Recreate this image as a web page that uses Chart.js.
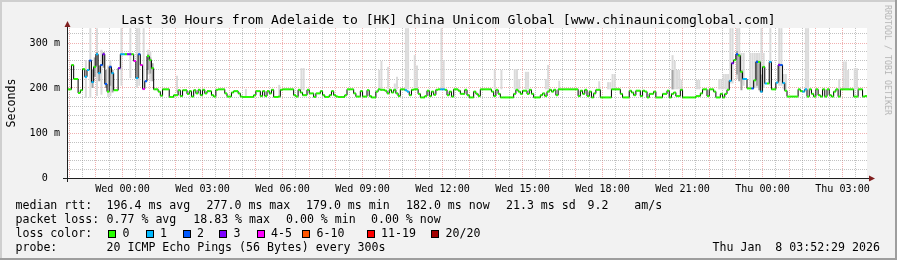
<!DOCTYPE html>
<html><head><meta charset="utf-8">
<script src="https://cdn.jsdelivr.net/npm/chart.js@4.4.1/dist/chart.umd.min.js"></script>
<style>
html,body{margin:0;padding:0;background:#f2f2f2;}
#wrap{position:relative;width:897px;height:260px;background:#f2f2f2;overflow:hidden;font-family:'DejaVu Sans Mono',monospace;color:#000;}
#c{position:absolute;left:0;top:0;}
.t{position:absolute;white-space:pre;font-size:11.58px;line-height:14px;}
.box{position:absolute;width:8px;height:8px;border:1px solid #000;box-sizing:border-box;}
#title{position:absolute;left:0;top:11.5px;width:897px;text-align:center;font-size:13.1px;line-height:16px;white-space:pre;}
#ylab{position:absolute;left:10.5px;top:102.5px;font-size:11.58px;line-height:14px;white-space:pre;transform:translate(-50%,-50%) rotate(-90deg);}
#wm{position:absolute;left:888px;top:60px;font-size:8.3px;line-height:10px;white-space:pre;color:#b5b5b5;transform:translate(-50%,-50%) rotate(90deg);}
.sh{position:absolute;}
</style></head>
<body>
<div id="wrap">
<canvas id="c" width="897" height="260"></canvas>
<div id="title">Last 30 Hours from Adelaide to [HK] China Unicom Global [www.chinaunicomglobal.com]</div>
<div id="ylab">Seconds</div>
<div id="wm">RRDTOOL / TOBI OETIKER</div>
<div id="legend"></div>
<div class="sh" style="left:0;top:0;width:897px;height:2px;background:#cfcfcf"></div>
<div class="sh" style="left:0;top:0;width:2px;height:260px;background:#cfcfcf"></div>
<div class="sh" style="left:0;top:258px;width:897px;height:2px;background:#9e9e9e"></div>
<div class="sh" style="left:895px;top:0;width:2px;height:260px;background:#9e9e9e"></div>
</div>
<script>
// ---- data ----
const stepMinutes = 5;
const startMinute = -125; // minutes relative to Wed 00:00
const tickTimes = [0,180,360,540,720,900,1080,1260,1440,1620];
const tickLabels = ['Wed 00:00','Wed 03:00','Wed 06:00','Wed 09:00','Wed 12:00','Wed 15:00','Wed 18:00','Wed 21:00','Thu 00:00','Thu 03:00'];
const yTickValues = [0,100,200,300];
const yTickLabels = ['0  ','100 m','200 m','300 m'];
const lossLabels = ['0','1','2','3','4-5','6-10','11-19','20/20'];
const lossColors = ['#26ff00','#00b8ff','#0059ff','#7e00ff','#ff00ff','#ff5500','#ff0000','#a10000'];

const rtt = [
197,197,251,220,220,189,195,242,225,240,261,213,247,275,233,251,275,209,192,247,
233,195,195,244,275,275,275,275,275,275,260,222,275,251,198,215,271,262,244,197,
197,192,183,197,197,197,180,180,184,184,195,182,195,195,187,193,181,195,188,196,
184,196,188,193,193,184,181,196,197,197,197,188,181,181,190,193,193,188,181,180,
180,180,180,180,184,193,193,182,193,182,193,188,196,180,180,181,196,197,197,197,
197,197,184,181,196,190,184,184,196,188,188,180,188,188,193,184,180,180,184,193,
184,181,180,180,180,184,197,197,197,188,181,181,193,181,181,195,182,179,179,192,
197,196,196,194,188,196,190,196,188,182,197,197,195,192,184,196,197,197,187,179,
179,182,194,182,192,185,196,197,197,197,196,184,192,181,197,197,194,187,187,196,
184,179,179,192,187,182,197,197,197,197,197,192,182,196,187,179,179,179,179,179,
179,187,196,192,187,194,194,187,196,187,179,179,179,184,188,182,192,196,192,196,
184,197,197,197,197,197,197,197,197,197,182,194,187,196,182,192,179,188,196,196,
179,179,179,179,179,197,197,197,197,187,179,179,179,194,190,184,194,194,182,194,
192,179,187,187,192,179,179,179,187,187,194,179,187,190,182,182,196,179,179,179,
179,179,179,182,182,188,197,197,182,197,197,192,179,179,187,179,187,196,216,255,
262,275,272,236,220,220,199,199,199,217,258,258,192,247,210,210,258,197,197,212,
251,251,211,194,181,181,181,181,181,197,193,192,197,181,197,187,181,197,184,181,
197,181,197,184,181,192,197,181,197,197,197,197,197,197,181,181,197,197,181,182
];
const lossIdx = [8,9,10,11,13,14,15,16,17,19,20,23,24,25,27,28,30,31,32,33,34,35,152,153,168,169,298,299,301,304,305,308,310,312,314,316,319,320,321,322,331,332];
const lossCat = [1,1,2,1,1,1,2,3,2,2,1,3,1,1,3,3,4,1,2,4,4,2,1,1,1,1,1,3,2,1,1,2,2,1,1,1,1,3,2,1,1,1];

const smokeIdx = [8,10,13,15,18,19,24,28,31,32,34,36,37,49,80,95,105,106,140,141,144,147,148,152,153,156,157,168,169,192,195,201,202,203,206,207,215,216,221,239,243,244,245,246,272,273,274,275,276,283,284,293,294,295,296,297,298,299,301,302,303,304,307,308,309,310,311,312,313,316,320,321,322,323,332,333,347,349,350,351,354,355];
const smokeLo  = [178,178,182,185,180,182,205,222,200,205,195,230,215,190,180,182,195,195,197,197,198,197,197,197,197,200,198,197,197,197,197,197,197,197,197,197,197,197,197,197,197,197,197,197,197,197,197,197,197,197,197,197,197,197,197,197,210,210,220,220,210,205,200,200,200,200,200,200,200,205,205,205,197,197,197,197,197,197,197,197,197,197];
const smokeHi  = [262,333,333,285,250,262,333,333,333,333,333,285,282,227,198,207,244,244,240,260,247,210,225,333,333,273,250,333,262,240,240,242,242,220,236,236,220,251,216,215,213,213,231,231,273,260,240,240,218,218,218,220,220,231,231,231,333,333,333,333,278,278,278,278,278,278,278,333,278,333,333,333,231,231,333,333,220,259,259,240,244,244];
const darkIdx = [11,12,13,14,16,17,19,20,36,37,38,272,301,302,303,310,311,312,320];
const darkLo  = [200,225,250,215,245,200,205,190,240,232,215,197,230,215,195,205,195,190,215];
const darkHi  = [240,268,280,250,280,240,250,240,275,268,255,240,282,275,240,262,255,230,255];

// ---- legend text ----
const L = document.getElementById('legend');
function txt(s, x, y){const d=document.createElement('div');d.className='t';d.textContent=s;d.style.left=x+'px';d.style.top=y+'px';L.appendChild(d);}
txt('median rtt:',15.5,197.5);
txt('196.4 ms avg',106.6,197.5);txt('277.0 ms max',206.6,197.5);txt('179.0 ms min',306,197.5);
txt('182.0 ms now',406,197.5);txt('21.3 ms sd',506,197.5);txt('9.2',587.6,197.5);txt('am/s',634.3,197.5);
txt('packet loss:',15.5,211.5);
txt('0.77 % avg',106.6,211.5);txt('18.83 % max',193.3,211.5);txt('0.00 % min',286,211.5);txt('0.00 % now',371,211.5);
txt('loss color:',15.5,225.5);
const boxX=[108.3,145.7,182.7,219.3,256.7,302,366.7,431];
const labX=[122.6,160,197,233.6,271,316.5,381,445.5];
lossLabels.forEach((s,k)=>{const b=document.createElement('div');b.className='box';b.style.left=boxX[k]+'px';b.style.top='229.5px';b.style.background=lossColors[k];L.appendChild(b);txt(s,labX[k],225.5);});
txt('probe:',15.5,239.5);
txt('20 ICMP Echo Pings (56 Bytes) every 300s',106.6,239.5);
txt('Thu Jan  8 03:52:29 2026',712.6,239.5);

// ---- build library data ----
const n = rtt.length;
const t = i => startMinute + stepMinutes*i;
const lossOf = new Array(n).fill(0);
lossIdx.forEach((p,k)=>{lossOf[p]=lossCat[k];});
const medianData = rtt.map((v,i)=>({x:t(i),y:v}));
medianData.push({x:t(n),y:rtt[n-1]});
const segData = [];
rtt.forEach((v,i)=>{segData.push({x:t(i),y:v},{x:t(i+1),y:v},{x:t(i+1),y:null});});
const smokeData = smokeIdx.map((p,k)=>({x:t(p)+stepMinutes/2,y:[smokeLo[k],smokeHi[k]]}));
const darkData = darkIdx.map((p,k)=>({x:t(p)+stepMinutes/2,y:[darkLo[k],darkHi[k]]}));
const xGrid=[];for(let v=-120;v<=1650;v+=30)xGrid.push(v);
const yGrid=[];for(let v=0;v<=320;v+=20)yGrid.push(v);

const MGRID='rgba(222,79,79,0.45)', GRID='rgba(143,143,143,0.55)';
const FONT='DejaVu Sans Mono';

const bgPlugin={id:'bg',beforeDraw(c){const a=c.chartArea,x=c.ctx;x.save();x.fillStyle='#fff';x.fillRect(a.left,a.top,a.right-a.left,a.bottom-a.top);x.restore();}};
const arrowPlugin={id:'arrows',afterDraw(c){const a=c.chartArea,x=c.ctx;x.save();
 x.strokeStyle='#1f1f1f';x.lineWidth=1;
 x.beginPath();x.moveTo(a.left+0.5,a.bottom+4);x.lineTo(a.left+0.5,a.top-2);x.stroke();
 x.beginPath();x.moveTo(a.left-4,a.bottom+0.5);x.lineTo(a.right+3,a.bottom+0.5);x.stroke();
 x.fillStyle='#801f1f';
 x.beginPath();x.moveTo(a.left+0.5-3,a.top-1);x.lineTo(a.left+0.5+3,a.top-1);x.lineTo(a.left+0.5,a.top-7);x.closePath();x.fill();
 x.beginPath();x.moveTo(a.right+2,a.bottom+0.5-3);x.lineTo(a.right+2,a.bottom+0.5+3);x.lineTo(a.right+8,a.bottom+0.5);x.closePath();x.fill();
 x.restore();}};

new Chart(document.getElementById('c'),{
 type:'line',
 data:{datasets:[
  {type:'bar',data:smokeData,backgroundColor:'#dadada',borderWidth:0,barThickness:2,inflateAmount:0,grouped:false,order:4},
  {type:'bar',data:darkData,backgroundColor:'#a4a4a4',borderWidth:0,barThickness:2,inflateAmount:0,grouped:false,order:3},
  {type:'line',data:medianData,borderColor:'#000',borderWidth:1,stepped:true,pointRadius:0,fill:false,order:2},
  {type:'line',data:segData,borderColor:lossColors[0],borderWidth:2,borderCapStyle:'butt',pointRadius:0,fill:false,spanGaps:false,order:1,
   segment:{borderColor:ctx=>lossColors[lossOf[Math.floor(ctx.p0DataIndex/3)]]}}
 ]},
 options:{
  responsive:false,animation:false,devicePixelRatio:1,
  layout:{padding:{top:28,right:30,left:0,bottom:0}},
  plugins:{legend:{display:false},tooltip:{enabled:false},title:{display:false}},
  scales:{
   x:{type:'linear',min:startMinute,max:startMinute+stepMinutes*n,offset:false,
    afterBuildTicks:s=>{s.ticks=xGrid.map(v=>({value:v}));},
    afterFit:s=>{s.height=82;},
    grid:{offset:false,drawTicks:false,lineWidth:1,color:c=>(c.tick&&c.tick.value%60===0)?MGRID:GRID},
    border:{display:true,color:'#1f1f1f',width:1,dash:[1,1]},
    ticks:{autoSkip:false,maxRotation:0,minRotation:0,padding:5,color:'#000',font:{family:FONT,size:10.1},
     callback:v=>{const k=tickTimes.indexOf(v);return k>=0?tickLabels[k]:'';}}
   },
   y:{min:0,max:1000/3,
    afterBuildTicks:s=>{s.ticks=yGrid.map(v=>({value:v}));},
    afterFit:s=>{s.width=67;},
    grid:{drawTicks:false,lineWidth:1,color:c=>(c.tick&&c.tick.value%100===0)?MGRID:GRID},
    border:{display:true,color:'#1f1f1f',width:1,dash:[1,1]},
    ticks:{autoSkip:false,padding:7,color:'#000',font:{family:FONT,size:10.1},
     callback:v=>{const k=yTickValues.indexOf(v);return k>=0?yTickLabels[k]:'';}}
   }
  }
 },
 plugins:[bgPlugin,arrowPlugin]
});
</script>
</body></html>
